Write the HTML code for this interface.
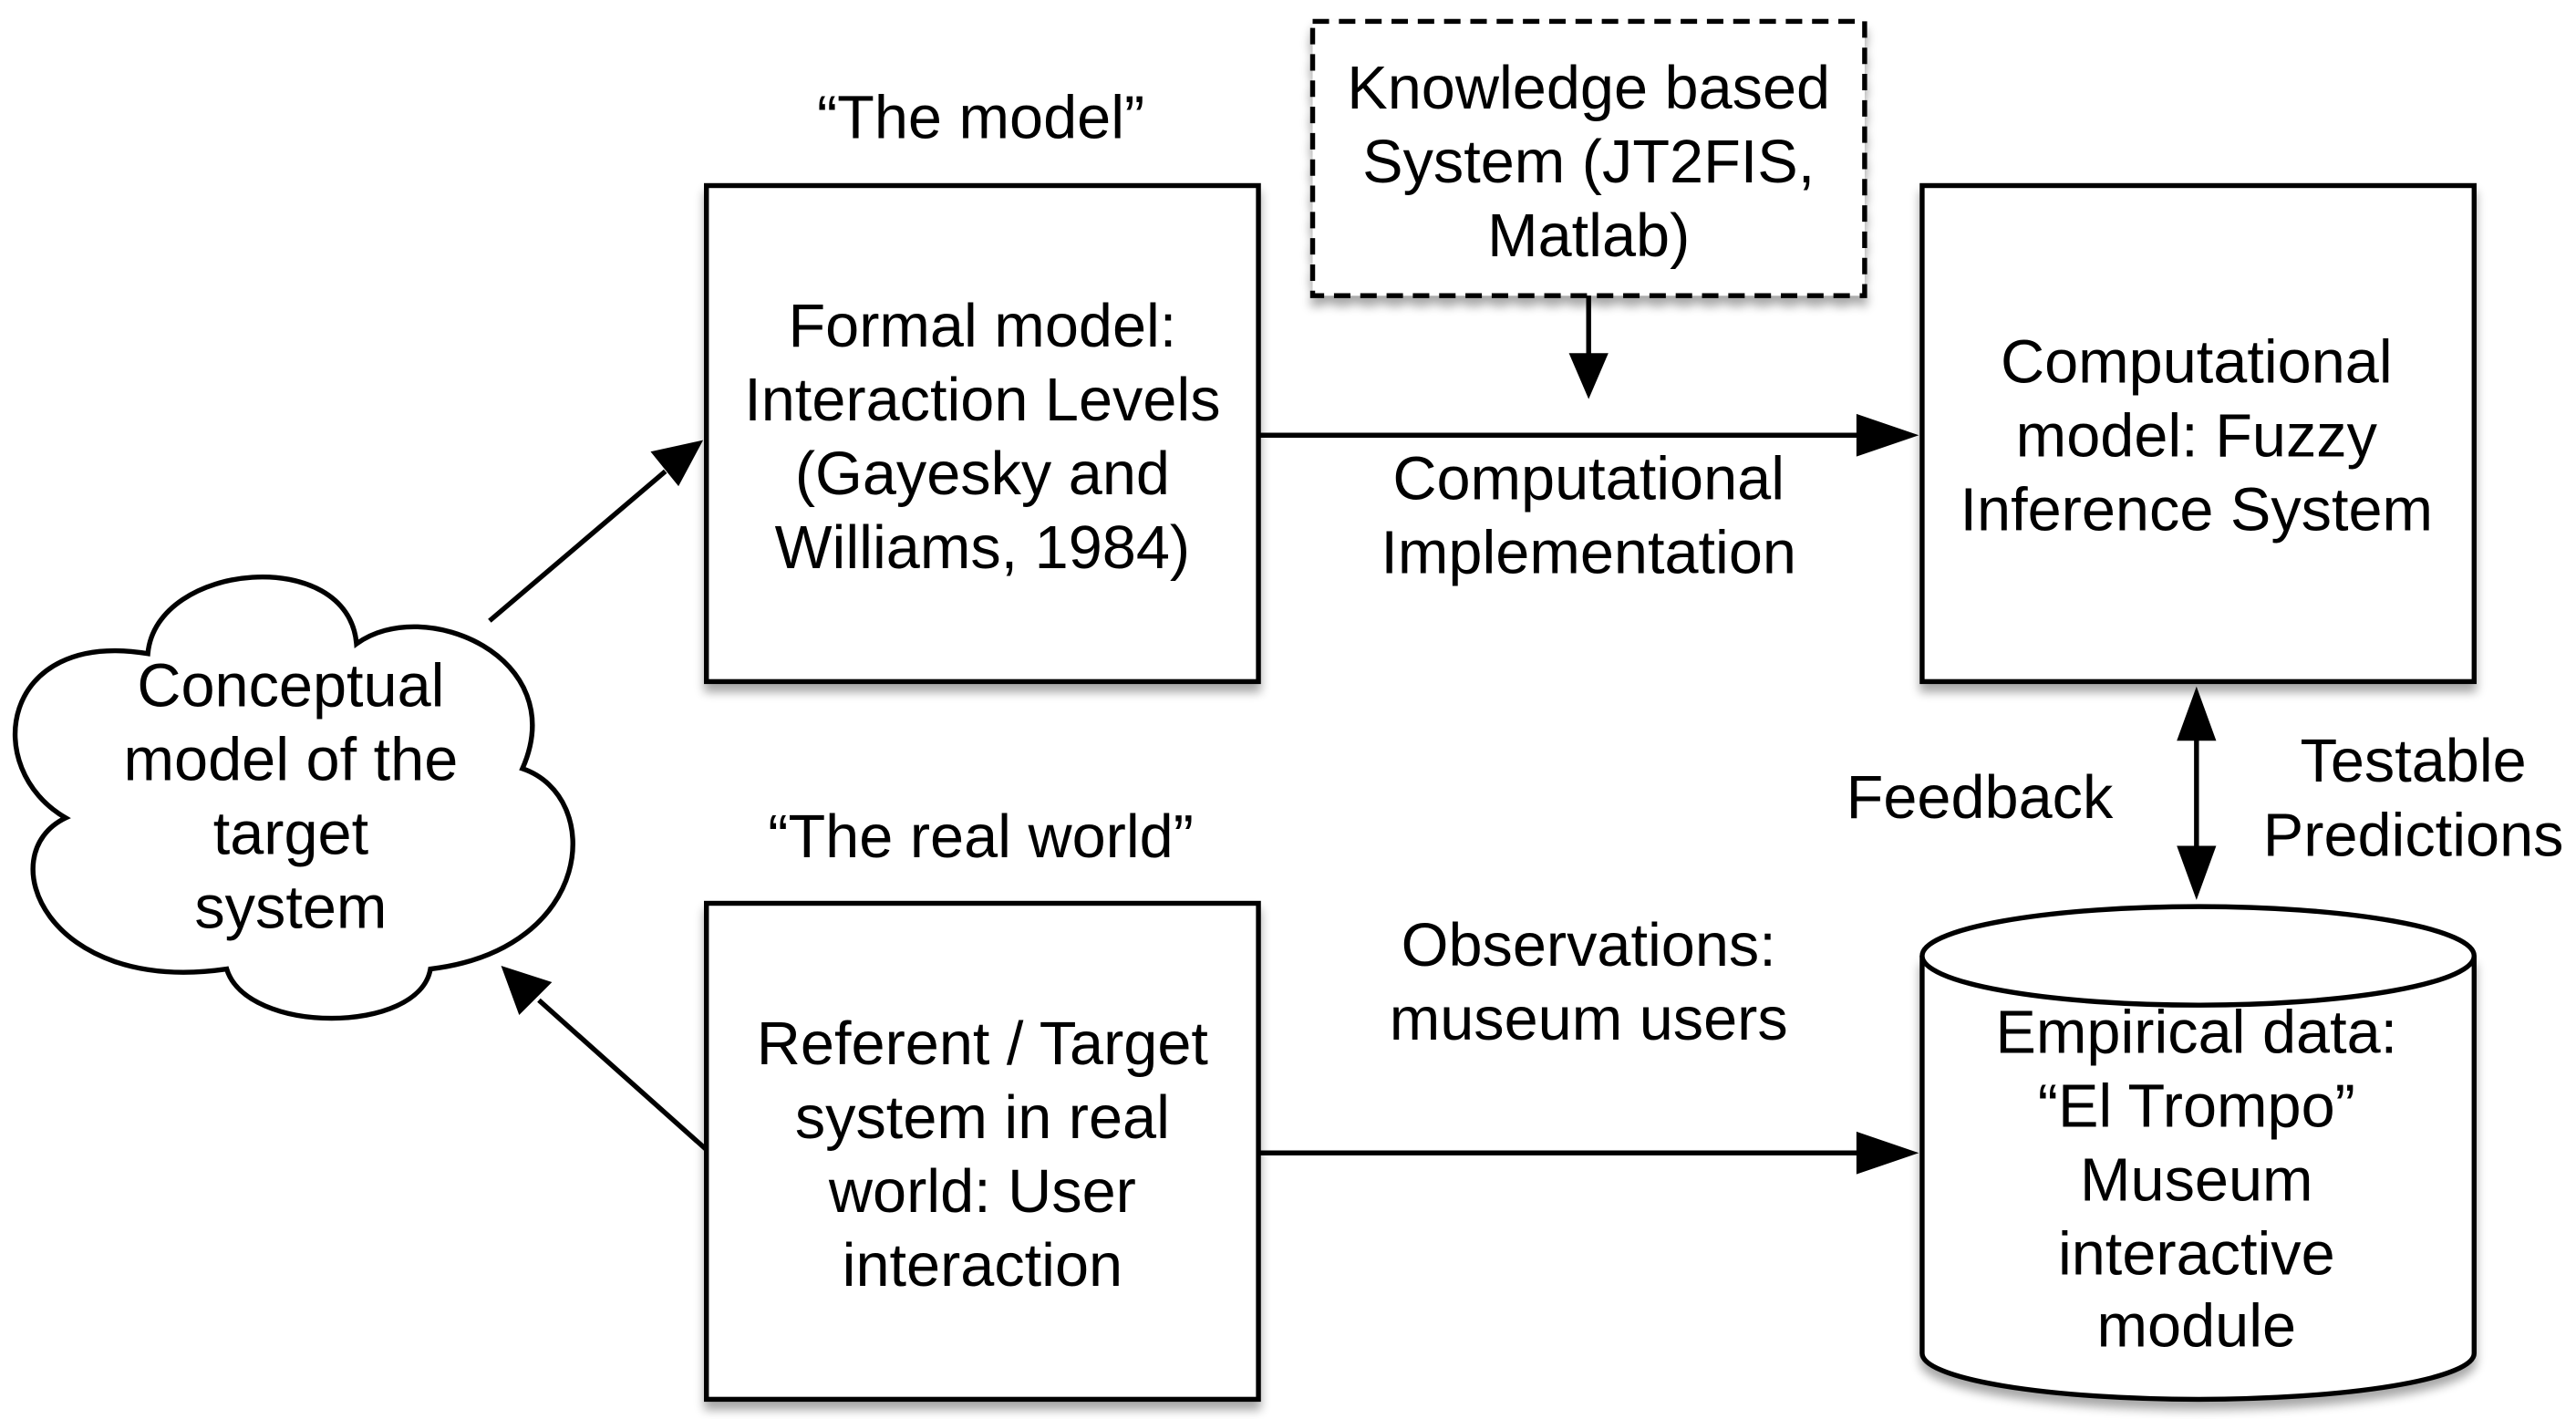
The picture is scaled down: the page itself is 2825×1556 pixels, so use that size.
<!DOCTYPE html>
<html><head><meta charset="utf-8">
<style>
html,body{margin:0;padding:0;background:#fff;}
svg{display:block;}
text{font-family:"Liberation Sans",Arial,sans-serif;font-size:37px;fill:#000;text-anchor:middle;}
</style></head>
<body>
<svg width="2825" height="1556" viewBox="0 0 1568 864" preserveAspectRatio="none" xmlns="http://www.w3.org/2000/svg">
<defs>
<filter id="sh" x="-10%" y="-10%" width="120%" height="125%">
<feGaussianBlur in="SourceAlpha" stdDeviation="3"/>
<feOffset dx="0" dy="5" result="b"/>
<feComponentTransfer><feFuncA type="linear" slope="0.35"/></feComponentTransfer>
<feMerge><feMergeNode/><feMergeNode in="SourceGraphic"/></feMerge>
</filter>
</defs>
<g stroke="#000" stroke-width="3" fill="#fff">
<rect x="430" y="113" width="336" height="302" filter="url(#sh)"/>
<rect x="1170" y="113" width="336" height="302" filter="url(#sh)"/>
<rect x="430" y="550" width="336" height="302" filter="url(#sh)"/>
<rect x="799" y="13" width="336" height="167" stroke-dasharray="10,6" filter="url(#sh)"/>
<path d="M1170,582 L1170,824 A168,28 0 0 0 1506,824 L1506,582" filter="url(#sh)"/>
<ellipse cx="1338" cy="582" rx="168" ry="30"/>
<path d="M90,398 C95,342 212,332 217,392 C258,362 348,400 318,468 C368,485 362,578 262,590 C255,630 150,630 138,590 C28,606 -6,520 40,498 C-12,468 0,383 90,398 Z"/>
</g>
<g stroke="#000" stroke-width="3" fill="none">
<line x1="967" y1="180" x2="967" y2="218"/>
<line x1="766" y1="265" x2="1135" y2="265"/>
<line x1="766" y1="702" x2="1135" y2="702"/>
<line x1="298" y1="378" x2="405" y2="287"/>
<line x1="430" y1="700" x2="328" y2="609"/>
<line x1="1337" y1="450" x2="1337" y2="515"/>
</g>
<g fill="#000">
<polygon points="955,215 979,215 967,243"/>
<polygon points="1130,252 1130,278 1168,265"/>
<polygon points="1130,689 1130,715 1168,702"/>
<polygon points="428,268 396,275 413,296"/>
<polygon points="305,588 316,618 336,598"/>
<polygon points="1337,418 1325,451 1349,451"/>
<polygon points="1337,548 1325,515 1349,515"/>
</g>
<text x="967" y="66">Knowledge based</text>
<text x="967" y="111">System (JT2FIS,</text>
<text x="967" y="156">Matlab)</text>
<text x="597" y="84">“The model”</text>
<text x="598" y="211">Formal model:</text>
<text x="598" y="256">Interaction Levels</text>
<text x="598" y="301">(Gayesky and</text>
<text x="598" y="346">Williams, 1984)</text>
<text x="1337" y="233">Computational</text>
<text x="1337" y="278">model: Fuzzy</text>
<text x="1337" y="323">Inference System</text>
<text x="967" y="304">Computational</text>
<text x="967" y="349">Implementation</text>
<text x="177" y="430">Conceptual</text>
<text x="177" y="475">model of the</text>
<text x="177" y="520">target</text>
<text x="177" y="565">system</text>
<text x="597" y="522">“The real world”</text>
<text x="598" y="648">Referent / Target</text>
<text x="598" y="693">system in real</text>
<text x="598" y="738">world: User</text>
<text x="598" y="783">interaction</text>
<text x="967" y="588">Observations:</text>
<text x="967" y="633">museum users</text>
<text x="1337" y="641">Empirical data:</text>
<text x="1337" y="686">“El Trompo”</text>
<text x="1337" y="731">Museum</text>
<text x="1337" y="776">interactive</text>
<text x="1337" y="820">module</text>
<text x="1205" y="498">Feedback</text>
<text x="1469" y="476">Testable</text>
<text x="1469" y="521">Predictions</text>
</svg>
</body></html>
